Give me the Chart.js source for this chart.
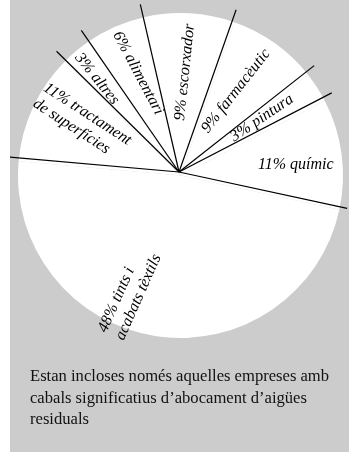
<!DOCTYPE html>
<html>
<head>
<meta charset="utf-8">
<script src="https://cdn.jsdelivr.net/npm/chart.js@4"></script>
<style>
  html, body { margin: 0; padding: 0; background: #fff; }
  #panel {
    position: absolute; left: 10px; top: 0;
    width: 339px; height: 452px;
    background: #cccccc;
    overflow: hidden;
  }
  #pie { position: absolute; left: 0; top: 0; }
  #nota {
    position: absolute; left: 20px; top: 365px;
    font-family: "Liberation Serif", "Times New Roman", serif;
    font-size: 16.6px; line-height: 21.5px;
    color: #111; white-space: nowrap;
  }
</style>
</head>
<body>
<div id="panel">
  <canvas id="pie" width="339" height="452"></canvas>
  <div id="nota">Estan incloses només aquelles empreses amb<br>cabals significatius d’abocament d’aigües<br>residuals</div>
</div>
<script>
// sectors, clockwise from the left
const sectors = ['tractament de superfícies', 'altres', 'alimentari', 'escorxador',
                 'farmacèutic', 'pintura', 'químic', 'tints i acabats tèxtils'];
const percents = [11, 3, 6, 9, 9, 3, 11, 48];
const labelLines = [
    ['11% tractament', 'de superfícies'],
    ['3% altres'],
    ['6% alimentari'],
    ['9% escorxador'],
    ['9% farmacèutic'],
    ['3% pintura'],
    ['11% químic'],
    ['48% tints i', 'acabats tèxtils']
];

// label placement: distance from hub, angle shift from slice middle (deg), text rotation (deg)
const labelPlace = [
    { r: 109, shift: 2.5, rot: 33 },
    { r: 124, shift: -1.4, rot: 51 },
    { r: 107, shift: 1.3, rot: 62 },
    { r: 100, shift: 0.2, rot: -84 },
    { r: 99, shift: -0.5, rot: -52 },
    { r: 99, shift: -0.3, rot: -34 },
    { r: 117, shift: 4.2, rot: 0 },
    { r: 131, shift: 13.5, rot: -66 }
];

const hubShift = { x: -1.5, y: -3.5 };
const spokeLength = 172;

const spokesAndLabels = {
    id: 'spokesAndLabels',
    afterDatasetsDraw(chart) {
        const ctx = chart.ctx;
        const arcs = chart.getDatasetMeta(0).data;
        if (!arcs.length) return;
        const hx = arcs[0].x + hubShift.x;
        const hy = arcs[0].y + hubShift.y;

        // dividing lines, drawn a little past the rim
        ctx.save();
        ctx.strokeStyle = '#000';
        ctx.lineWidth = 1.2;
        arcs.forEach(a => {
            ctx.beginPath();
            ctx.moveTo(hx, hy);
            ctx.lineTo(hx + Math.cos(a.startAngle) * spokeLength,
                       hy + Math.sin(a.startAngle) * spokeLength);
            ctx.stroke();
        });
        ctx.restore();

        // rotated labels
        ctx.save();
        ctx.fillStyle = '#000';
        ctx.font = 'italic 16px "Liberation Serif", "Times New Roman", serif';
        ctx.textBaseline = 'middle';
        ctx.textAlign = 'left';
        const lineH = 19;
        arcs.forEach((a, i) => {
            const p = labelPlace[i];
            const mid = (a.startAngle + a.endAngle) / 2 + p.shift * Math.PI / 180;
            const lines = labelLines[i];
            const w = Math.max(...lines.map(t => ctx.measureText(t).width));
            ctx.save();
            ctx.translate(hx + Math.cos(mid) * p.r, hy + Math.sin(mid) * p.r);
            ctx.rotate(p.rot * Math.PI / 180);
            lines.forEach((t, k) => {
                ctx.fillText(t, -w / 2, (k - (lines.length - 1) / 2) * lineH);
            });
            ctx.restore();
        });
        ctx.restore();
    }
};

new Chart(document.getElementById('pie'), {
    type: 'pie',
    data: {
        labels: sectors,
        datasets: [{
            data: percents,
            backgroundColor: '#ffffff',
            borderWidth: 0,
            hoverOffset: 0,
            offset: 0
        }]
    },
    options: {
        responsive: false,
        animation: false,
        rotation: 275,
        layout: { padding: { left: 8, right: 6, top: 13, bottom: 114 } },
        plugins: {
            legend: { display: false },
            tooltip: { enabled: false }
        },
        events: []
    },
    plugins: [spokesAndLabels]
});
</script>
</body>
</html>
